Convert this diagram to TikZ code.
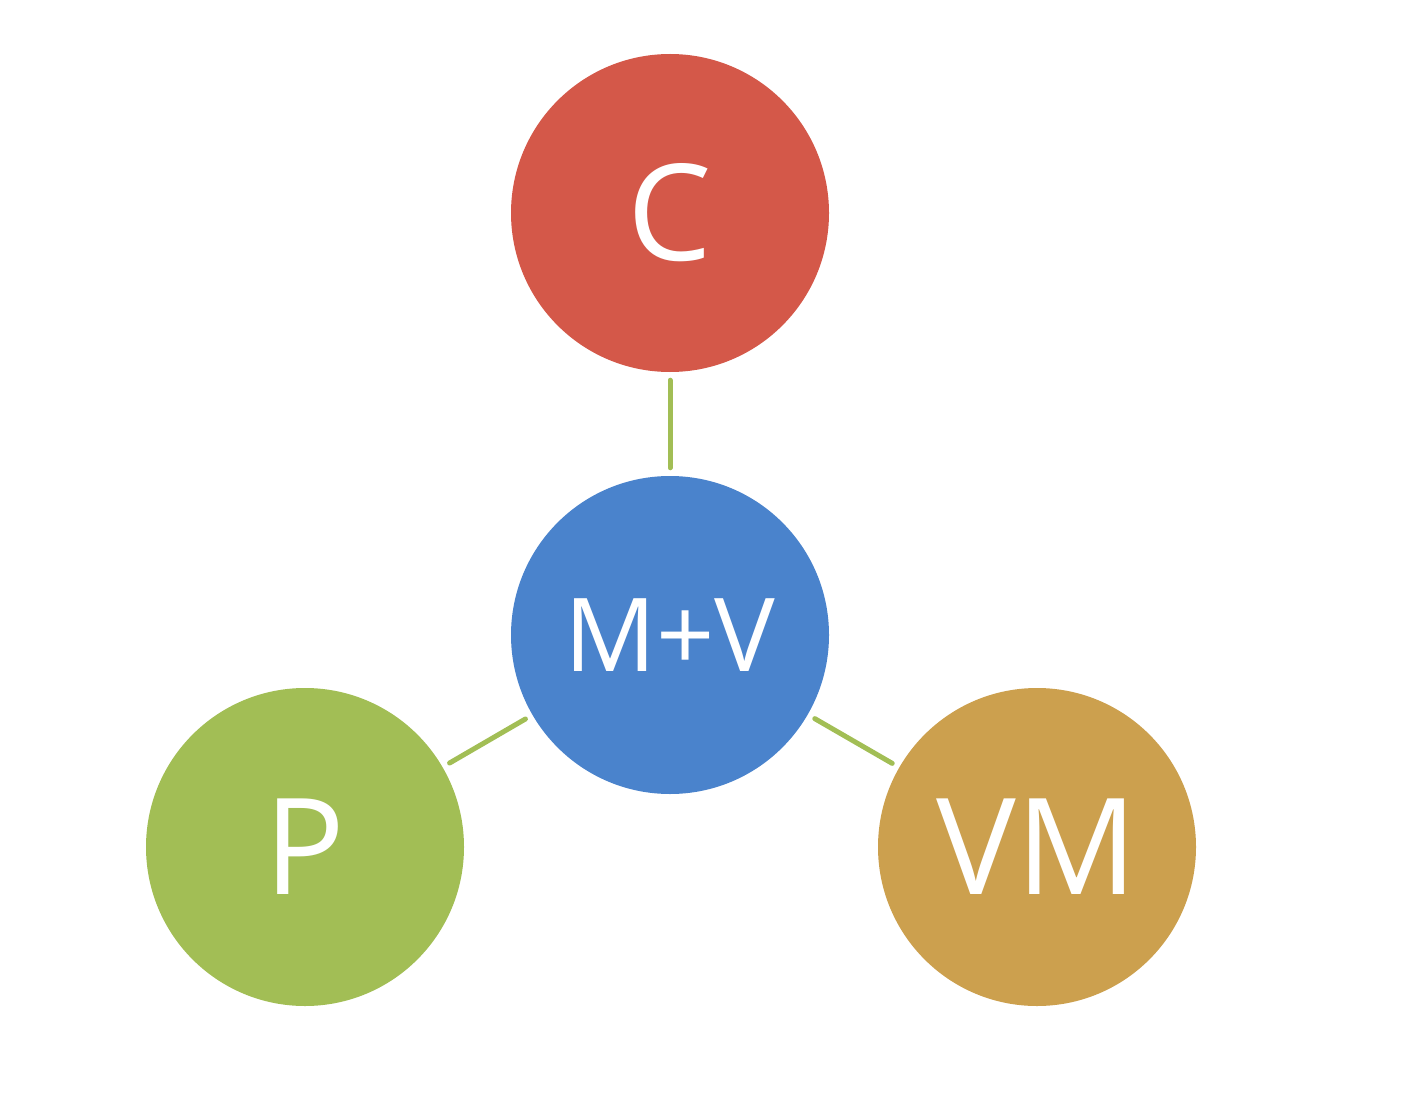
\documentclass[tikz,border=0pt]{standalone}
\usepackage{fontspec}
\setmainfont{Open Sans}
\definecolor{cred}{HTML}{D45849}
\definecolor{cblue}{HTML}{4A83CC}
\definecolor{cgreen}{HTML}{A2BE55}
\definecolor{cgold}{HTML}{CCA04E}
\definecolor{cline}{HTML}{A2BE55}
\begin{document}
\begin{tikzpicture}[x=1pt,y=-1pt,
  ball/.style={circle,minimum size=318pt,inner sep=0pt,text=white},
  big/.style={font=\fontsize{134}{134}\selectfont},
  mid/.style={font=\fontsize{102}{102}\selectfont},
  link/.style={draw=cline,line width=5pt,line cap=round,shorten >=8pt,shorten <=8pt}]
\useasboundingbox (0,0) rectangle (1407,1107);
\node[ball,fill=cred,big] (c) at (670,213) {C};
\node[ball,fill=cblue,mid] (mv) at (670,635) {M+V};
\node[ball,fill=cgreen,big] (p) at (305,847) {P};
\node[ball,fill=cgold,big] (vm) at (1037,847) {VM};
\draw[link] (c) -- (mv);
\draw[link] (mv) -- (p);
\draw[link] (mv) -- (vm);
\end{tikzpicture}
\end{document}
